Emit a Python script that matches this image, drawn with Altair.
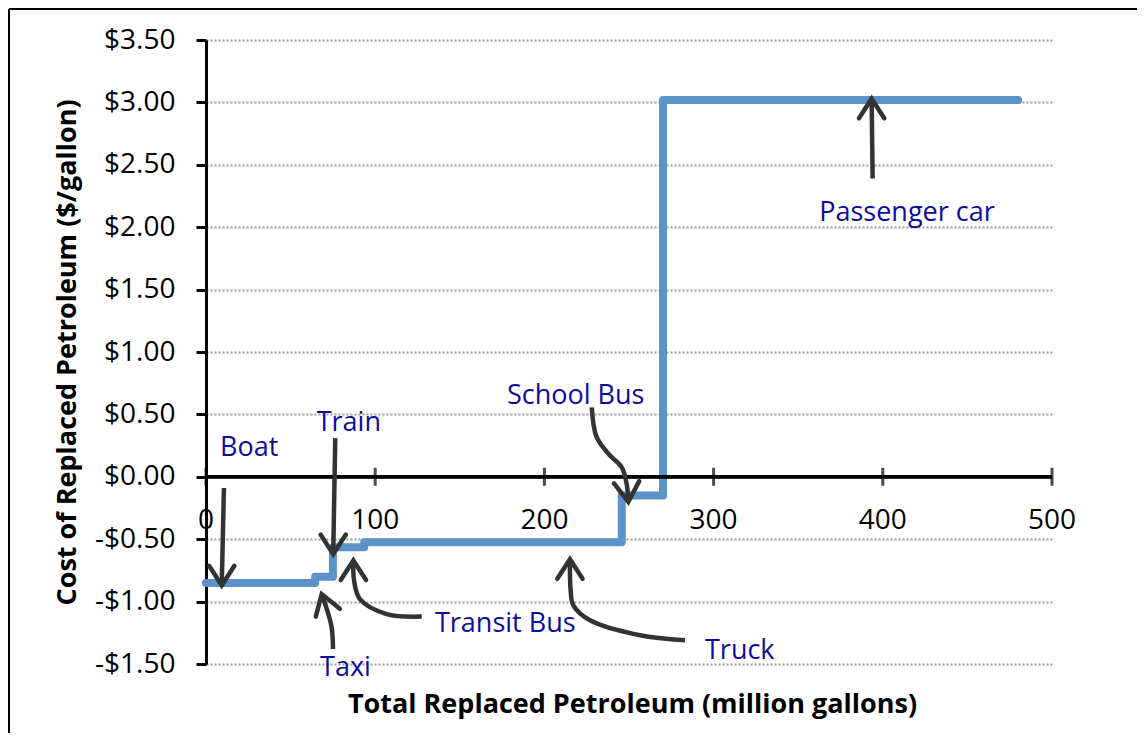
import altair as alt
import pandas as pd

# ---- data ----
step_x = [0, 64.5, 75, 93.5, 245.7, 270.1, 480]
step_y = [-0.85, -0.80, -0.565, -0.525, -0.15, 3.02, 3.02]

x_ticks = [0, 100, 200, 300, 400, 500]
y_ticks = [-1.5, -1.0, -0.5, 0.0, 0.5, 1.0, 1.5, 2.0, 2.5, 3.0, 3.5]

label_text = ["Boat", "Train", "Taxi", "Transit Bus", "Truck", "School Bus", "Passenger car"]
label_x = [8.3, 65.4, 67.4, 135.3, 294.9, 177.9, 362.4]
label_y = [0.17, 0.365, -1.594, -1.246, -1.457, 0.586, 2.047]

arrow_id = (["boat"] * 2 + ["train"] * 3 + ["taxi"] * 4 + ["transit"] * 5 +
            ["truck"] * 6 + ["school"] * 6 + ["car"] * 2)
arrow_x = [10.6, 9.3,
           76.4, 75.8, 75.2,
           75.1, 74.3, 72.3, 68.4,
           127.5, 106.8, 91.0, 87.5, 87.1,
           283.1, 256.5, 227.0, 217.1, 215.5, 215.1,
           228.0, 230.9, 238.8, 245.7, 248.6, 249.6,
           394.0, 393.4]
arrow_y = [-0.09, -0.87,
           0.31, -0.15, -0.62,
           -1.38, -1.21, -1.10, -0.94,
           -1.12, -1.10, -0.98, -0.83, -0.67,
           -1.31, -1.27, -1.15, -1.03, -0.91, -0.66,
           0.557, 0.317, 0.17, 0.076, -0.057, -0.20,
           2.39, 3.03]

head_x = [9.3, 75.2, 68.4, 87.1, 215.1, 249.6, 393.4]
head_y = [-0.87, -0.62, -0.94, -0.67, -0.66, -0.20, 3.03]
head_angle = [180, 180, 342, 0, 0, 175, 0]

# ---- tables ----
step_df = pd.DataFrame({"x": step_x, "y": step_y})
xt_df = pd.DataFrame({"x": x_ticks})
lab_df = pd.DataFrame({"text": label_text, "x": label_x, "y": label_y})
order = []
prev = None
k = 0
for a in arrow_id:
    k = k + 1 if a == prev else 0
    prev = a
    order.append(k)
arr_df = pd.DataFrame({"id": arrow_id, "x": arrow_x, "y": arrow_y, "o": order})
head_df = pd.DataFrame({"x": head_x, "y": head_y, "angle": head_angle})

FONT = "Open Sans"
LINE_BLUE = "#5B92C8"
TEXT_BLUE = "#0C0C9A"
ARROW = "#333333"

xscale = alt.Scale(domain=[0, 500], nice=False, zero=False)
yscale = alt.Scale(domain=[-1.5, 3.5], nice=False, zero=False)

y_label_expr = ("datum.value < 0 ? '-$' + format(-datum.value, '.2f') : "
                "'$' + format(datum.value, '.2f')")

X_TITLE = "Total Replaced Petroleum (million gallons)"
Y_TITLE = "Cost of Replaced Petroleum ($/gallon)"

x_axis = alt.Axis(
    domain=False, ticks=False, labels=False, grid=False,
    title=X_TITLE,
    titleFont=FONT, titleFontSize=27, titleFontWeight="bold", titleColor="black",
    titleX=426, titleY=40, titleBaseline="middle", titleAlign="center")
y_axis = alt.Axis(
    values=y_ticks, labelExpr=y_label_expr,
    labelFont=FONT, labelFontSize=28, labelColor="black", labelPadding=21,
    tickSize=10, tickWidth=3, tickColor="black",
    domainColor="black", domainWidth=3,
    grid=True, gridDash=[2, 2], gridColor="#9a9a9a", gridWidth=2,
    title=Y_TITLE,
    titleFont=FONT, titleFontSize=27, titleFontWeight="bold", titleColor="black",
    titleX=-139, titleY=312, titleAngle=270, titleAlign="center",
    titleBaseline="middle")

nx = alt.X("x:Q", scale=xscale, axis=x_axis, title=X_TITLE)
ny = alt.Y("y:Q", scale=yscale, axis=y_axis, title=Y_TITLE)
zero_y = alt.YDatum(0, scale=yscale, axis=y_axis, title=Y_TITLE)

step = alt.Chart(step_df).mark_line(
    interpolate="step-after", strokeWidth=8, color=LINE_BLUE,
    strokeCap="round", strokeJoin="round").encode(x=nx, y=ny)

zero_rule = alt.Chart(xt_df).mark_rule(color="black", strokeWidth=3).encode(
    y=zero_y)

ticks = alt.Chart(xt_df).mark_tick(
    orient="vertical", size=18, thickness=3, color="black").encode(
    x=nx, y=zero_y)

tick_labels = alt.Chart(xt_df).mark_text(
    align="center", baseline="alphabetic", dy=52, font=FONT, fontSize=28,
    color="black").encode(
    x=nx, y=zero_y, text=alt.Text("x:Q", format="d"))

arrows = alt.Chart(arr_df).mark_line(
    interpolate="catmull-rom", strokeWidth=4.5, color=ARROW, strokeCap="butt").encode(
    x=nx, y=ny, detail="id:N", order="o:Q")

heads = alt.Chart(head_df).mark_point(
    shape="M -1 1.55 L 0 0 L 1 1.55", filled=False, strokeWidth=4.5, size=640,
    color=ARROW, opacity=1, strokeJoin="miter", strokeCap="round").encode(
    x=nx, y=ny, angle=alt.Angle("angle:Q", scale=None))

labels = alt.Chart(lab_df).mark_text(
    align="left", baseline="alphabetic", font=FONT, fontSize=27,
    color=TEXT_BLUE).encode(x=nx, y=ny, text="text:N")

border_left = alt.Chart(xt_df.head(1)).mark_rule(color="black", strokeWidth=2).encode(
    x=alt.value(-197), y=alt.value(-31), y2=alt.value(700))
border_top = alt.Chart(xt_df.head(1)).mark_rule(color="black", strokeWidth=2).encode(
    x=alt.value(-197), x2=alt.value(940), y=alt.value(-31))

chart = alt.layer(
    step, zero_rule, ticks, tick_labels, arrows, heads, labels, border_left, border_top
).properties(
    width=846, height=624,
    background="white",
    autosize=alt.AutoSizeParams(type="none"),
    padding={"left": 198, "top": 32, "right": 85, "bottom": 69},
).configure_view(strokeOpacity=0)

chart.save("out.html", embed_options={"renderer": "svg", "actions": False})
